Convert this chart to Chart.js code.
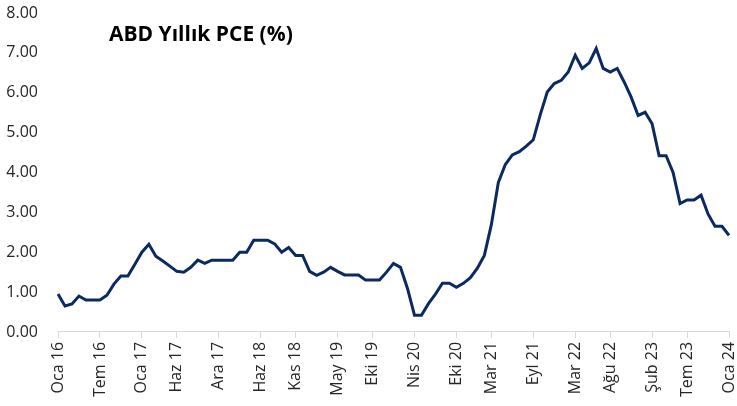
<!DOCTYPE html>
<html>
<head>
<meta charset="utf-8">
<script src="https://cdn.jsdelivr.net/npm/chart.js@4"></script>
<style>
    html, body { margin: 0; padding: 0; background: #fff; }
    #wrap { width: 737px; height: 406px; }
</style>
</head>
<body>
<div id="wrap"><canvas id="pceChart" width="737" height="406"></canvas></div>
<script>
// --- Data ---
const monthNames = ["Oca", "Şub", "Mar", "Nis", "May", "Haz", "Tem", "Ağu", "Eyl", "Eki", "Kas", "Ara"];
const years = [16, 17, 18, 19, 20, 21, 22, 23, 24];

// ABD yıllık PCE (%), Ocak 2016 - Ocak 2024 (aylık)
const pceValues = [
    0.95, 0.65, 0.70, 0.90, 0.80, 0.80, 0.80, 0.92, 1.20, 1.40, 1.40, 1.70,   // 2016
    2.00, 2.20, 1.90, 1.78, 1.65, 1.52, 1.50, 1.62, 1.80, 1.72, 1.80, 1.80,   // 2017
    1.80, 1.80, 2.00, 2.00, 2.30, 2.30, 2.30, 2.21, 2.00, 2.12, 1.92, 1.92,   // 2018
    1.52, 1.42, 1.50, 1.62, 1.52, 1.43, 1.43, 1.43, 1.30, 1.30, 1.30, 1.50,   // 2019
    1.72, 1.62, 1.09, 0.42, 0.42, 0.71, 0.95, 1.22, 1.22, 1.12, 1.22, 1.36,   // 2020
    1.60, 1.92, 2.69, 3.75, 4.20, 4.44, 4.52, 4.66, 4.82, 5.45, 6.02, 6.23,   // 2021
    6.31, 6.52, 6.94, 6.61, 6.75, 7.11, 6.61, 6.52, 6.61, 6.27, 5.89, 5.43,   // 2022
    5.51, 5.22, 4.42, 4.42, 4.00, 3.22, 3.31, 3.31, 3.43, 2.96, 2.65, 2.65,   // 2023
    2.42                                                                       // 2024
];

// X axis labels that are shown
const tickLabels = ["Oca 16", "Tem 16", "Oca 17", "Haz 17", "Ara 17", "Haz 18", "Kas 18", "May 19", "Eki 19",
                    "Nis 20", "Eki 20", "Mar 21", "Eyl 21", "Mar 22", "Ağu 22", "Şub 23", "Tem 23", "Oca 24"];
const yTicks = [0, 1, 2, 3, 4, 5, 6, 7, 8];

// Build month categories
const categories = [];
years.forEach(y => monthNames.forEach(m => categories.push(m + " " + y)));
categories.length = pceValues.length;

const shownIdx = tickLabels.map(l => categories.indexOf(l));

// --- Title plugin (drawn inside the plot area) ---
const titlePlugin = {
    id: "innerTitle",
    afterDraw(chart) {
        const ctx = chart.ctx;
        ctx.save();
        ctx.font = "bold 21px 'Open Sans'";
        ctx.fillStyle = "#000";
        ctx.textBaseline = "alphabetic";
        ctx.textAlign = "left";
        ctx.fillText("ABD Yıllık PCE (%)", 109, 41);
        ctx.restore();
    }
};

const ctx = document.getElementById("pceChart");
new Chart(ctx, {
    type: "line",
    data: {
        labels: categories,
        datasets: [{
            label: "ABD Yıllık PCE",
            data: pceValues,
            borderColor: "#0b2a5f",
            borderWidth: 3,
            pointRadius: 0,
            tension: 0,
            fill: false
        }]
    },
    options: {
        responsive: false,
        animation: false,
        layout: { padding: { left: 0, top: 13, right: 8, bottom: 5 } },
        plugins: { legend: { display: false }, tooltip: { enabled: false } },
        scales: {
            x: {
                offset: false,
                border: { display: true, color: "#d9d9d9", width: 1 },
                grid: {
                    drawOnChartArea: false,
                    drawTicks: true,
                    tickLength: 6,
                    color: c => shownIdx.includes(c.index) ? "#d9d9d9" : "rgba(0,0,0,0)"
                },
                ticks: {
                    autoSkip: false,
                    minRotation: 90,
                    maxRotation: 90,
                    padding: 4,
                    color: "#262626",
                    font: { family: "'Open Sans'", size: 16 },
                    callback: function(val, i) {
                        return shownIdx.includes(i) ? categories[i] : "";
                    }
                },
                afterFit: s => { s.paddingLeft = 0; s.paddingRight = 0; }
            },
            y: {
                min: yTicks[0],
                max: yTicks[yTicks.length - 1],
                border: { display: false },
                grid: { display: false, drawTicks: false, tickLength: 0 },
                afterBuildTicks: s => { s.ticks = yTicks.map(v => ({ value: v })); },
                ticks: {
                    padding: 20,
                    color: "#262626",
                    font: { family: "'Open Sans'", size: 16 },
                    callback: v => Number(v).toFixed(2)
                },
                afterFit: s => { s.width = 58; s.paddingTop = 0; s.paddingBottom = 0; }
            }
        }
    },
    plugins: [titlePlugin]
});
</script>
</body>
</html>
